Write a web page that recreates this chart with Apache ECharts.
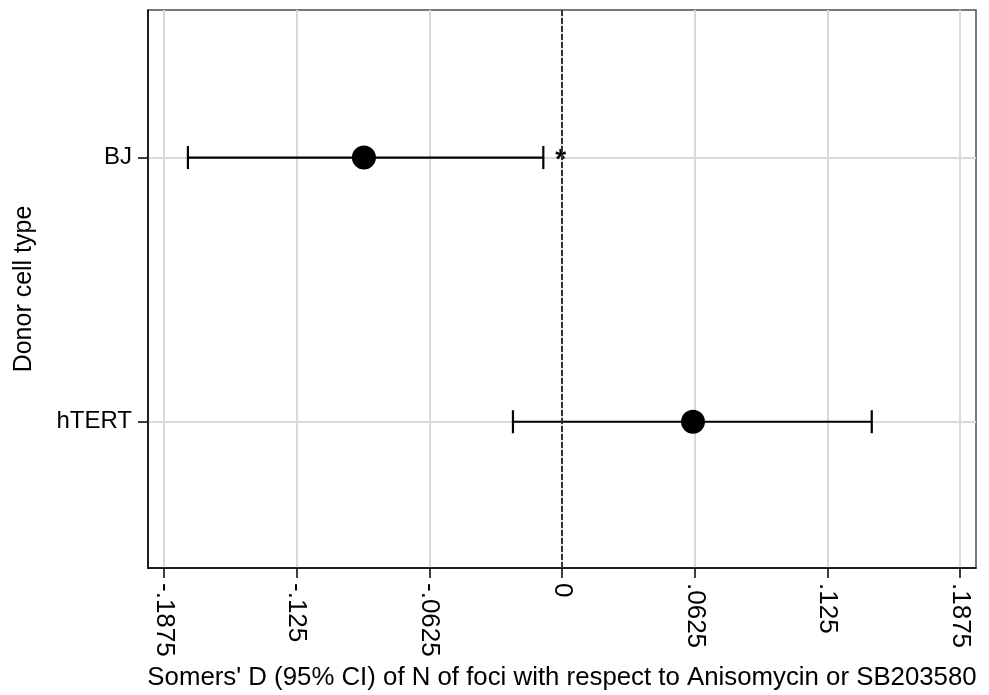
<!DOCTYPE html>
<html>
<head>
<meta charset="utf-8">
<script src="https://cdn.jsdelivr.net/npm/echarts@6/dist/echarts.min.js"></script>
<style>
  html, body { margin: 0; padding: 0; background: #fff; }
  #chart { width: 989px; height: 695px; }
</style>
</head>
<body>
<div id="chart"></div>
<script>
// Donor cell types, bottom-to-top position on the y scale
const cellTypes = ['hTERT', 'BJ'];
const cellPos = [1, 2];
// Somers' D point estimates and 95% confidence limits
const somersD = [0.0617, -0.0933];
const ciLow = [-0.0231, -0.1762];
const ciHigh = [0.1459, -0.0088];
// significance flags shown beside the upper limit
const sigMark = ['', '*'];
// x tick values and their printed labels
const xTicks = [-0.1875, -0.125, -0.0625, 0, 0.0625, 0.125, 0.1875];
const xTickLabels = ['-.1875', '-.125', '-.0625', '0', '.0625', '.125', '.1875'];

const FONT = 'Liberation Sans, Arial, Helvetica, sans-serif';
const GRID_GREY = '#d9d9d9';

const labelOf = v => {
  const i = xTicks.findIndex(t => Math.abs(t - v) < 1e-9);
  return i >= 0 ? xTickLabels[i] : '';
};
const catOf = v => {
  const i = cellPos.findIndex(p => Math.abs(p - v) < 1e-9);
  return i >= 0 ? cellTypes[i] : '';
};

const ciData = cellPos.map((p, i) => [ciLow[i], ciHigh[i], p, sigMark[i]]);
const pointData = cellPos.map((p, i) => [somersD[i], p]);

const chart = echarts.init(document.getElementById('chart'), null, { renderer: 'canvas' });

chart.setOption({
  animation: false,
  backgroundColor: '#fff',
  grid: {
    left: 148, right: 13, top: 10, bottom: 127,
    outerBoundsMode: 'none', containLabel: false,
    show: true, borderColor: '#4d4d4d', borderWidth: 1.5, backgroundColor: 'transparent'
  },
  xAxis: {
    type: 'value',
    min: -0.195, max: 0.195,
    name: "Somers' D (95% CI) of N of foci with respect to Anisomycin or SB203580",
    nameLocation: 'middle',
    nameGap: 97,
    nameTextStyle: { fontFamily: FONT, fontSize: 25.8, color: '#000' },
    axisLine: { show: true, onZero: false, lineStyle: { color: '#000', width: 1.5 } },
    axisTick: { show: true, length: 10, customValues: xTicks, lineStyle: { color: '#000', width: 1.5 } },
    axisLabel: {
      customValues: xTicks, rotate: -90, margin: 15,
      fontFamily: FONT, fontSize: 26, color: '#000',
      formatter: v => labelOf(v)
    },
    splitLine: { show: true, customValues: xTicks, lineStyle: { color: GRID_GREY, width: 2 } }
  },
  yAxis: {
    type: 'value',
    min: 0.4463, max: 2.5586,
    name: 'Donor cell type',
    nameLocation: 'middle',
    nameGap: 111,
    nameTextStyle: { fontFamily: FONT, fontSize: 25, color: '#000' },
    axisLine: { show: true, onZero: false, lineStyle: { color: '#000', width: 1.5 } },
    axisTick: { show: true, length: 10, customValues: cellPos, lineStyle: { color: '#000', width: 1.5 } },
    axisLabel: {
      customValues: cellPos, margin: 16,
      fontFamily: FONT, fontSize: 24, color: '#000',
      formatter: v => catOf(v)
    },
    splitLine: { show: true, customValues: cellPos, lineStyle: { color: GRID_GREY, width: 2 } }
  },
  series: [
    {
      // dashed reference line at zero
      type: 'line',
      data: [],
      silent: true,
      markLine: {
        symbol: 'none',
        silent: true,
        label: { show: false },
        lineStyle: { color: '#333', width: 2, type: [6, 2] },
        data: [{ xAxis: 0 }]
      }
    },
    {
      // confidence interval bars with end caps
      type: 'custom',
      data: ciData,
      z: 3,
      renderItem: (params, api) => {
        const lo = api.coord([api.value(0), api.value(2)]);
        const hi = api.coord([api.value(1), api.value(2)]);
        const cap = 11.5;
        const style = { stroke: '#000', lineWidth: 2.2 };
        const children = [
          { type: 'line', shape: { x1: lo[0], y1: lo[1], x2: hi[0], y2: hi[1] }, style },
          { type: 'line', shape: { x1: lo[0], y1: lo[1] - cap, x2: lo[0], y2: lo[1] + cap }, style },
          { type: 'line', shape: { x1: hi[0], y1: hi[1] - cap, x2: hi[0], y2: hi[1] + cap }, style }
        ];
        const mark = ciData[params.dataIndex][3];
        if (mark) {
          children.push({
            type: 'text',
            style: {
              text: mark, x: hi[0] + 12, y: hi[1] + 3,
              fill: '#000', font: 'bold 28px ' + FONT,
              textAlign: 'left', textVerticalAlign: 'middle'
            }
          });
        }
        return { type: 'group', children };
      }
    },
    {
      // point estimates
      type: 'scatter',
      data: pointData,
      symbol: 'circle',
      symbolSize: 24,
      z: 4,
      itemStyle: { color: '#000', opacity: 1 }
    }
  ]
});
</script>
</body>
</html>
